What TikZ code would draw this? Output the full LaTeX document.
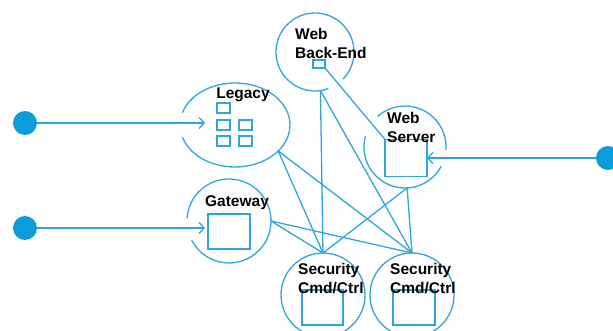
\documentclass[tikz,border=0pt]{standalone}
\usepackage{fontspec}
\setmainfont{Liberation Sans}
\usetikzlibrary{shapes.geometric,arrows.meta}
\definecolor{lineblue}{HTML}{2EA6DC}
\definecolor{dotblue}{HTML}{0A9CDB}
\begin{document}
\begin{tikzpicture}[x=1pt,y=1pt,
  ln/.style={draw=lineblue, line width=1.3pt},
  sq/.style={draw=lineblue, line width=1.3pt, fill=white, inner sep=0, outer sep=0},
  ring/.style={circle, inner sep=0, outer sep=0, minimum size=#1},
  lbl/.style={font=\bfseries\fontsize{15.5}{19}\selectfont, align=left, inner sep=0, text=black},
  dot/.style={circle, fill=dotblue, minimum size=24pt, inner sep=0},
  arr/.style={ln, -{Straight Barb[length=5pt,width=11pt]}}]
\clip (0,0) rectangle (613,330);
% outlines
\node[ring=78pt] (wb) at (315,278) {};
\node[ring=82pt] (ws) at (405,183) {};
\node[ring=84pt] (gw) at (229,109) {};
\node[ring=84pt, ln] (s1) at (323,35) {};
\node[ring=84pt, ln] (s2) at (412,35) {};
\node[ellipse, inner sep=0, outer sep=0, minimum width=110pt, minimum height=84pt] (leg) at (235,205) {};
\draw[ln] (wb.-44) arc[start angle=-44, end angle=290, radius=39pt];
\draw[ln] (ws.165) arc[start angle=165, end angle=332, radius=41pt];
\draw[ln] (ws.-4) arc[start angle=-4, end angle=132, radius=41pt];
\draw[ln] (gw.176) arc[start angle=176, end angle=-153, radius=42pt];
\draw[ln] ([shift={(163:55pt and 42pt)}]leg.center) arc[start angle=163, end angle=-163, x radius=55pt, y radius=42pt];
% connectors
\draw[ln] (leg.-31) -- (s1.north);
\draw[ln] (leg.-31) -- (s2.north);
\draw[ln] (wb.-82) -- (s1.north);
\draw[ln] (wb.-82) -- (s2.north);
\draw[ln] (ws.-87) -- (s1.north);
\draw[ln] (ws.-87) -- (s2.north);
\draw[ln] (gw.east) -- (s1.north);
\draw[ln] (gw.east) -- (s2.north);
% squares
\node[sq, minimum width=13pt, minimum height=10pt] (lq1) at (223.5,222) {};
\node[sq, minimum width=13pt, minimum height=10pt] (lq2) at (223.5,205) {};
\node[sq, minimum width=13pt, minimum height=10pt] (lq3) at (245.5,205) {};
\node[sq, minimum width=13pt, minimum height=10pt] (lq4) at (223.5,189) {};
\node[sq, minimum width=13pt, minimum height=10pt] (lq5) at (245.5,189) {};
\node[sq, minimum width=12pt, minimum height=8pt] (wbsq) at (319,266) {};
\node[sq, minimum width=42pt, minimum height=37pt] (wssq) at (406,172) {};
\node[sq, minimum width=42pt, minimum height=35pt] (gwsq) at (229,98.5) {};
\node[sq, minimum width=41pt, minimum height=35pt] (s1sq) at (322.5,22.5) {};
\node[sq, minimum width=42pt, minimum height=35pt] (s2sq) at (414,22.5) {};
\draw[ln] (wbsq.south east) -- (wssq.north west);
% inputs
\node[dot] (d1) at (25,207) {};
\node[dot] (d2) at (25,102) {};
\node[dot] (d3) at (608,172) {};
\coordinate (legin) at (205,207);
\coordinate (gwin) at (205,102);
\draw[arr] (d1) -- (legin);
\draw[arr] (d2) -- (gwin);
\draw[arr] (d3) -- (wssq.east);
% labels
\node[lbl, anchor=north west] (twb) at (295,302) {Web\\Back-End};
\node[lbl, anchor=north west] (tws) at (387,218) {Web\\Server};
\node[lbl, anchor=north] (tgw) at (237,135) {Gateway};
\node[lbl, anchor=north] (tleg) at (243,242) {Legacy};
\node[lbl, anchor=north west] (ts1) at (298,67) {Security\\Cmd/Ctrl};
\node[lbl, anchor=north west] (ts2) at (390,67) {Security\\Cmd/Ctrl};
\end{tikzpicture}
\end{document}
